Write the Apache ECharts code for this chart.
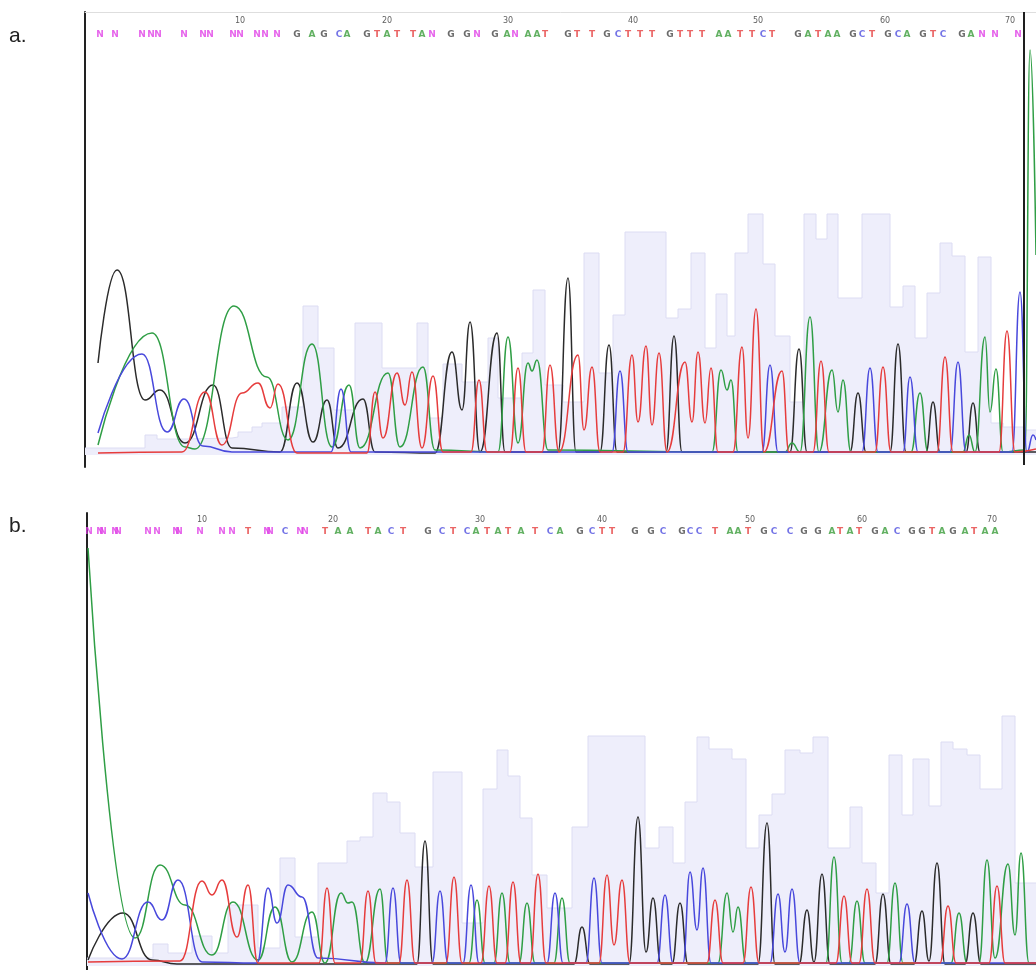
<!DOCTYPE html>
<html>
<head>
<meta charset="utf-8">
<script src="https://cdn.jsdelivr.net/npm/echarts@6/dist/echarts.min.js"></script>
<style>
html, body { margin: 0; padding: 0; background: #fff; }
#chart { width: 1036px; height: 970px; }
</style>
</head>
<body>
<div id="chart"></div>
<script>
// ---- panel a : base calls ----
const basesA = ['N','N','N','N','N','N','N','N','N','N','N','N','N','G','A','G','C','A','G','T','A','T','T','A','N','G','G','N','G','A','N','A','A','T','G','T','T','G','C','T','T','T','G','T','T','T','A','A','T','T','C','T','G','A','T','A','A','G','C','T','G','C','A','G','T','C','G','A','N','N','N'];
const basePosA = [15,30,57,66,73,99,118,125,148,155,172,180,192,212,227,239,254,262,282,292,302,312,328,337,347,366,382,392,410,422,430,443,452,460,483,492,507,522,533,543,555,567,585,595,605,617,634,643,655,667,678,687,713,723,733,743,752,768,777,787,803,813,822,838,848,858,877,886,897,910,933];
const tickPosA = [155, 302, 423, 548, 673, 800, 925];

// ---- panel b : base calls ----
const basesB = ['N','N','N','N','N','N','N','N','N','N','N','N','T','N','N','C','N','N','T','A','A','T','A','C','T','G','C','T','C','A','T','A','T','A','T','C','A','G','C','T','T','G','G','C','G','C','C','T','A','A','T','G','C','C','G','G','A','T','A','T','G','A','C','G','G','T','A','G','A','T','A','A'];
const basePosB = [2,13,16,28,31,61,70,89,92,113,135,145,161,180,183,198,213,218,238,251,263,281,291,304,316,341,355,366,380,389,400,411,421,434,448,463,473,493,505,515,525,548,564,576,595,603,612,628,643,651,661,677,687,703,717,731,745,753,763,772,788,798,810,825,835,845,855,866,878,887,898,908];
const tickPosB = [115, 246, 393, 515, 663, 775, 905];

const tickLabels = ['10', '20', '30', '40', '50', '60', '70'];

// ---- quality bars (block start, height) ----
const qualEdgeA = [0,60,72,100,147,153,167,177,197,218,233,249,270,297,332,343,358,377,403,413,437,448,460,478,499,514,528,540,581,593,606,620,631,642,650,663,678,690,705,719,731,742,753,777,805,818,830,842,855,867,880,893,906,918,940,951];
const qualA = [7,20,16,17,18,23,28,32,48,149,107,45,132,87,132,37,91,73,117,57,102,165,70,53,202,82,140,223,137,146,202,107,161,119,202,241,191,119,53,241,216,241,157,241,148,169,117,162,212,199,103,198,32,28,25,25];

const qualEdgeB = [0,66,81,105,125,141,171,193,208,231,260,273,286,300,313,328,346,375,396,410,421,433,445,460,485,501,558,572,586,598,610,622,645,659,672,685,698,713,726,741,763,775,789,802,815,826,842,854,866,880,893,915,928,949];
const qualB = [8,22,13,30,13,61,18,108,29,103,125,129,173,164,133,99,194,43,177,216,190,148,91,58,139,230,118,139,103,164,229,217,207,118,151,172,216,213,229,118,159,103,73,211,151,207,160,224,217,211,177,250,83,83];

// ---- traces, panel a (scan, signal) : peaks, valleys and shoulders ----
const traceGA = [[13,92],[32,185],[60,55],[75,65],[100,12],[128,70],[147,7],[195,3],[212,72],[228,13],[242,55],[253,7],[278,56],[290,3],[350,2],[367,103],[377,45],[385,133],[395,3],[412,122],[420,3],[473,3],[483,177],[491,3],[515,3],[524,110],[532,3],[581,3],[589,119],[597,3],[705,3],[714,106],[722,3],[765,3],[773,62],[781,3],[805,3],[813,111],[821,3],[841,3],[848,53],[855,3],[881,3],[888,52],[895,3],[951,3]];
const traceAA = [[13,10],[67,122],[100,8],[110,6],[149,149],[182,78],[203,15],[227,111],[247,8],[264,70],[275,7],[303,82],[315,8],[338,88],[350,5],[413,3],[423,118],[433,12],[443,92],[447,84],[452,95],[463,5],[627,3],[636,85],[642,65],[646,75],[653,3],[700,3],[707,12],[715,3],[725,138],[734,3],[747,85],[753,43],[758,75],[766,3],[826,3],[835,62],[843,3],[878,3],[884,20],[890,3],[900,118],[905,43],[911,86],[918,3],[940,5],[945,405],[951,200]];
const traceCA = [[13,22],[57,101],[82,23],[99,56],[118,9],[147,3],[246,3],[256,66],[266,3],[527,3],[535,84],[543,3],[677,3],[685,90],[693,3],[777,3],[785,87],[793,3],[818,3],[825,78],[833,3],[865,3],[873,93],[881,3],[927,3],[935,163],[942,3],[948,20],[951,15]];
const traceTA = [[13,2],[97,3],[120,63],[137,10],[157,62],[173,72],[185,47],[193,71],[212,2],[282,2],[290,63],[298,17],[312,82],[320,50],[327,83],[337,7],[348,79],[358,3],[386,3],[394,75],[402,3],[425,3],[433,87],[441,3],[457,3],[465,90],[474,3],[493,100],[499,25],[507,88],[515,3],[538,3],[547,100],[553,33],[561,109],[567,30],[574,102],[582,3],[600,93],[607,33],[613,103],[620,32],[626,87],[633,3],[648,3],[657,108],[663,17],[671,146],[679,3],[697,84],[704,3],[728,3],[736,94],[744,3],[790,3],[798,88],[806,3],[852,3],[860,98],[868,3],[914,3],[922,124],[930,3],[951,6]];
const cursorA = [[939,-10],[939,443]];

// ---- traces, panel b ----
const traceGB = [[1,6],[36,53],[65,6],[90,2],[330,2],[338,125],[346,2],[487,2],[495,39],[503,2],[542,2],[551,149],[559,14],[566,68],[574,2],[585,2],[593,63],[601,2],[671,2],[680,143],[688,2],[712,2],[720,56],[727,4],[735,92],[743,2],[788,2],[796,72],[804,2],[827,2],[835,55],[842,5],[850,103],[858,2],[878,2],[886,53],[894,2],[949,2]];
const traceAB = [[1,418],[48,28],[73,101],[98,61],[125,11],[146,64],[171,6],[188,59],[205,4],[225,54],[238,3],[254,73],[261,63],[265,64],[278,3],[293,77],[301,3],[382,3],[390,66],[398,3],[407,3],[415,73],[423,3],[432,3],[440,63],[448,3],[467,3],[475,68],[483,3],[631,3],[640,73],[646,34],[651,59],[659,3],[739,3],[747,109],[755,3],[762,3],[770,65],[778,3],[800,3],[808,83],[816,3],[864,3],[872,53],[880,3],[892,3],[900,106],[908,8],[921,102],[928,31],[934,113],[942,3],[949,3]];
const traceCB = [[1,73],[35,7],[61,64],[75,46],[91,86],[115,4],[170,3],[181,78],[190,43],[201,81],[215,69],[231,8],[298,3],[306,78],[314,3],[345,3],[353,75],[361,3],[376,3],[384,81],[392,3],[460,3],[468,73],[476,3],[499,3],[507,88],[515,3],[570,3],[578,71],[586,3],[596,3],[603,94],[610,36],[616,98],[624,3],[683,3],[691,72],[698,14],[705,77],[713,3],[812,3],[820,62],[828,3],[949,3]];
const traceTB = [[1,4],[93,5],[115,85],[125,71],[135,86],[150,29],[161,81],[171,3],[232,3],[240,78],[248,3],[273,3],[281,75],[289,3],[312,3],[320,86],[328,3],[359,3],[367,89],[375,3],[394,3],[402,80],[410,3],[418,3],[426,84],[434,3],[443,3],[451,92],[459,3],[512,3],[520,91],[527,21],[535,86],[543,3],[620,3],[628,66],[636,3],[656,3],[664,79],[672,3],[749,3],[757,70],[765,3],[772,3],[780,77],[788,3],[853,3],[861,60],[869,3],[902,3],[910,80],[918,3],[949,3]];

const traceColors = { A: '#2f9e45', C: '#4848dc', G: '#2b2b2b', T: '#e63c3c' };
const letterColors = { A: '#3a9c3a', C: '#5252e0', G: '#454545', T: '#e53e3e', N: '#e03ee6' };

const panels = [
  {
    grid: { left: 85, right: 0, top: 12, height: 455 },
    xMax: 951, yMin: -12, yMax: 443, letterY: 420, tickY: 434, topLine: '#dedede',
    bases: basesA, pos: basePosA, ticks: tickPosA, qx: qualEdgeA, qy: qualA,
    traces: { G: traceGA, A: traceAA, C: traceCA, T: traceTA }, cursor: cursorA
  },
  {
    grid: { left: 87, right: 0, top: 513, height: 457 },
    xMax: 949, yMin: -4, yMax: 453, letterY: 434, tickY: 446, topLine: null,
    bases: basesB, pos: basePosB, ticks: tickPosB, qx: qualEdgeB, qy: qualB,
    traces: { G: traceGB, A: traceAB, C: traceCB, T: traceTB }, cursor: null
  }
];

const grids = [], xAxes = [], yAxes = [], series = [];

panels.forEach((p, i) => {
  grids.push(p.grid);
  xAxes.push({
    type: 'value', gridIndex: i, min: 0, max: p.xMax, position: 'top',
    axisLine: { show: !!p.topLine, onZero: false, lineStyle: { color: p.topLine || '#fff', width: 1 } },
    axisTick: { show: false }, axisLabel: { show: false }, splitLine: { show: false }
  });
  yAxes.push({
    type: 'value', gridIndex: i, min: p.yMin, max: p.yMax,
    axisLine: { show: true, lineStyle: { color: '#222', width: 2 } },
    axisTick: { show: false }, axisLabel: { show: false }, splitLine: { show: false }
  });

  // quality histogram
  series.push({
    type: 'line', xAxisIndex: i, yAxisIndex: i, step: 'end', symbol: 'none', z: 1,
    lineStyle: { color: '#dcdcf3', width: 1 },
    areaStyle: { color: '#eeeefb', opacity: 1 },
    data: p.qx.map((x, k) => [x, p.qy[k]])
  });

  // four dye traces
  ['G', 'A', 'C', 'T'].forEach(b => {
    series.push({
      type: 'line', xAxisIndex: i, yAxisIndex: i, symbol: 'none', z: 3,
      smooth: 0.5, smoothMonotone: 'x',
      lineStyle: { color: traceColors[b], width: 1.5 },
      data: p.traces[b]
    });
  });

  // cursor line
  if (p.cursor) {
    series.push({
      type: 'line', xAxisIndex: i, yAxisIndex: i, symbol: 'none', z: 4,
      lineStyle: { color: '#1e1e1e', width: 2 },
      data: p.cursor
    });
  }

  // base letters
  series.push({
    type: 'scatter', xAxisIndex: i, yAxisIndex: i, symbolSize: 1, z: 5, silent: true,
    itemStyle: { color: 'rgba(0,0,0,0)' },
    label: { show: true, position: 'inside', formatter: '{b}', fontSize: 9, fontWeight: 'bold', fontFamily: 'DejaVu Sans' },
    data: p.bases.map((b, k) => ({ name: b, value: [p.pos[k], p.letterY], label: { color: letterColors[b] } }))
  });

  // position numbers
  series.push({
    type: 'scatter', xAxisIndex: i, yAxisIndex: i, symbolSize: 1, z: 5, silent: true,
    itemStyle: { color: 'rgba(0,0,0,0)' },
    label: { show: true, position: 'inside', formatter: '{b}', fontSize: 8, color: '#333', fontFamily: 'DejaVu Sans' },
    data: p.ticks.map((x, k) => ({ name: tickLabels[k], value: [x, p.tickY] }))
  });
});

const chart = echarts.init(document.getElementById('chart'));
chart.setOption({
  animation: false,
  backgroundColor: '#fff',
  grid: grids,
  xAxis: xAxes,
  yAxis: yAxes,
  series: series,
  graphic: [
    { type: 'text', left: 9, top: 26, style: { text: 'a.', font: '21px "Liberation Sans"', fill: '#222' } },
    { type: 'text', left: 9, top: 516, style: { text: 'b.', font: '21px "Liberation Sans"', fill: '#222' } }
  ]
});
</script>
</body>
</html>
